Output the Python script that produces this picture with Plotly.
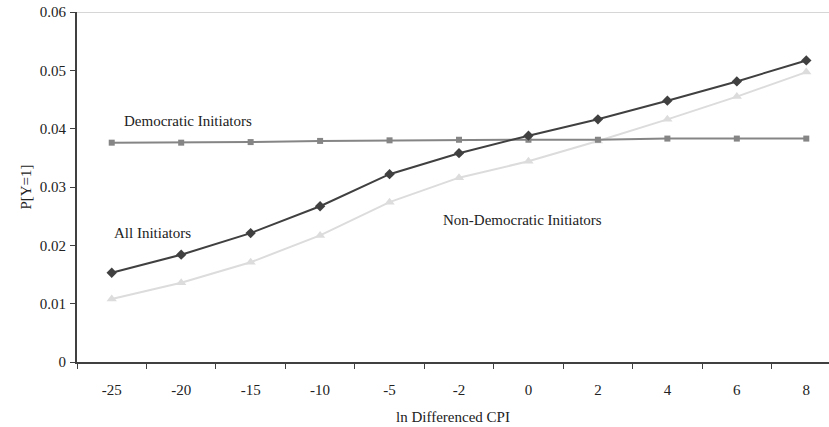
import plotly.graph_objects as go

categories = ["-25", "-20", "-15", "-10", "-5", "-2", "0", "2", "4", "6", "8"]
all_initiators = [0.0153, 0.0184, 0.0221, 0.0267, 0.0322, 0.0358, 0.0388, 0.0416, 0.0448, 0.0481, 0.0517]
democratic = [0.0376, 0.0376, 0.0377, 0.0379, 0.0380, 0.0381, 0.0381, 0.0381, 0.0383, 0.0383, 0.0383]
non_democratic = [0.0108, 0.0136, 0.0171, 0.0217, 0.0274, 0.0316, 0.0344, 0.0379, 0.0416, 0.0455, 0.0497]
y_ticks = [0, 0.01, 0.02, 0.03, 0.04, 0.05, 0.06]
y_tick_text = ["0", "0.01", "0.02", "0.03", "0.04", "0.05", "0.06"]

FONT = "Liberation Serif"
FS = 15

fig = go.Figure()
fig.add_trace(go.Scatter(x=categories, y=non_democratic, mode="lines+markers",
                         line=dict(color="#dcdcdc", width=2),
                         marker=dict(symbol="triangle-up", size=9, color="#dcdcdc"),
                         name="Non-Democratic Initiators"))
fig.add_trace(go.Scatter(x=categories, y=democratic, mode="lines+markers",
                         line=dict(color="#858585", width=2),
                         marker=dict(symbol="square", size=6, color="#858585"),
                         name="Democratic Initiators"))
fig.add_trace(go.Scatter(x=categories, y=all_initiators, mode="lines+markers",
                         line=dict(color="#404040", width=2),
                         marker=dict(symbol="diamond", size=8, color="#404040"),
                         name="All Initiators"))

fig.add_shape(type="line", xref="paper", yref="y", x0=0, x1=1, y0=0.06, y1=0.06,
              line=dict(color="#c8c8c8", width=1.5), layer="below")

ann_font = dict(family=FONT, size=FS, color="#222222")
fig.add_annotation(x=1.10, y=0.0413, xref="x", yref="y", text="Democratic Initiators",
                   showarrow=False, font=ann_font)
fig.add_annotation(x=0.58, y=0.0221, xref="x", yref="y", text="All Initiators",
                   showarrow=False, font=ann_font)
fig.add_annotation(x=5.92, y=0.0243, xref="x", yref="y", text="Non-Democratic Initiators",
                   showarrow=False, font=ann_font)

fig.update_layout(
    width=829, height=427,
    margin=dict(l=77, r=0, t=12, b=65),
    paper_bgcolor="white", plot_bgcolor="white",
    showlegend=False,
    font=dict(family=FONT, size=FS, color="#222222"),
)
fig.update_xaxes(type="category", range=[-0.5, 10.327], automargin=False,
                 showline=True, linecolor="#404040", linewidth=2,
                 ticks="outside", tickson="boundaries", ticklen=5, tickcolor="#404040",
                 ticklabelstandoff=13,
                 showgrid=False, zeroline=False,
                 title=dict(text="ln Differenced CPI", standoff=14, font=dict(family=FONT, size=FS)),
                 tickfont=dict(family=FONT, size=FS))
fig.update_yaxes(range=[0, 0.06], tickvals=y_ticks, ticktext=y_tick_text, automargin=False,
                 showline=True, linecolor="#404040", linewidth=2,
                 ticks="outside", ticklen=5, tickcolor="#404040",
                 ticklabelstandoff=1,
                 showgrid=False, zeroline=False,
                 title=dict(text="P[Y=1]", standoff=5, font=dict(family=FONT, size=FS)),
                 tickfont=dict(family=FONT, size=FS))

fig.write_html("out.html", config={"displayModeBar": False},
               post_script="document.body.style.margin='0';document.body.style.padding='0';")
